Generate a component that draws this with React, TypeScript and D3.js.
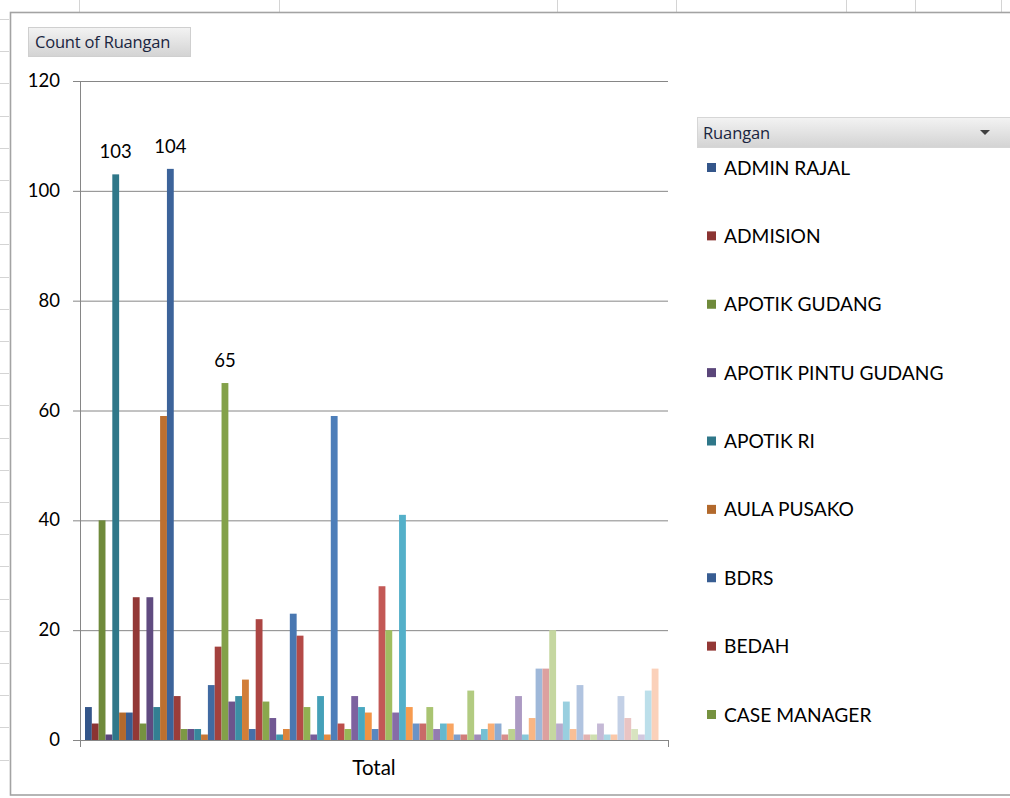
import * as d3 from "d3";

const WIDTH = 1010;
const HEIGHT = 798;

// one value per Ruangan series, in legend order (84 series, single "Total" category)
const COUNTS = [
  6, 3, 40, 1, 103, 5,
  5, 26, 3, 26, 6, 59,
  104, 8, 2, 2, 2, 1,
  10, 17, 65, 7, 8, 11,
  2, 22, 7, 4, 1, 2,
  23, 19, 6, 1, 8, 1,
  59, 3, 2, 8, 6, 5,
  2, 28, 20, 5, 41, 6,
  3, 3, 6, 2, 3, 3,
  1, 1, 9, 1, 2, 3,
  3, 1, 2, 8, 1, 4,
  13, 13, 20, 3, 7, 2,
  10, 1, 1, 3, 1, 1,
  8, 4, 2, 1, 9, 13,
];

// only the first entries of the legend are visible
const LEGEND_NAMES = [
  "ADMIN RAJAL",
  "ADMISION",
  "APOTIK GUDANG",
  "APOTIK PINTU GUDANG",
  "APOTIK RI",
  "AULA PUSAKO",
  "BDRS",
  "BEDAH",
  "CASE MANAGER",
];

const LABELLED = [4, 12, 20]; // series indices with data labels
const Y_TICKS = [0, 20, 40, 60, 80, 100, 120];

// dark -> accent -> light, per Office accent hue
const HUES = [
  ["#34568a", "#4f81bd", "#c3d0e6"],
  ["#8b3432", "#c0504d", "#e9c4c3"],
  ["#6f8a3b", "#9bbb59", "#d8e4c0"],
  ["#5a467a", "#8064a2", "#d2c9df"],
  ["#2f7789", "#4bacc6", "#bcdfea"],
  ["#b2692c", "#f79646", "#fbd1ba"],
];

const FONT = "Lato, 'Open Sans', sans-serif";

const CYCLES = Math.ceil(COUNTS.length / HUES.length);
function seriesColor(i: number) {
  const hue = HUES[i % HUES.length];
  const cycle = Math.floor(i / HUES.length);
  return d3.piecewise(d3.interpolateRgb, hue)(cycle / (CYCLES - 1));
}

const plot = { left: 80, right: 668, top: 81, bottom: 740 };

export default function App() {
  const y = d3.scaleLinear().domain([0, 120]).range([plot.bottom, plot.top]);
  const x = d3
    .scaleBand<number>()
    .domain(COUNTS.map((_, i) => i))
    .range([plot.left + 5, plot.right - 9.5])
    .paddingInner(0);

  const sheetCols = [79, 279, 557, 676, 846, 915, 1001];
  const sheetRows = d3.range(19, 790, 32.2);

  const legendY = d3
    .scalePoint<number>()
    .domain(LEGEND_NAMES.map((_, i) => i))
    .range([168, 715]);

  return (
    <svg
      width={WIDTH}
      height={HEIGHT}
      style={{ position: "absolute", left: 0, top: 0, background: "#fff" }}
      fontFamily={FONT}
    >
      <defs>
        <linearGradient id="btn" x1="0" y1="0" x2="0" y2="1">
          <stop offset="0" stopColor="#f3f3f3" />
          <stop offset="1" stopColor="#d3d3d3" />
        </linearGradient>
      </defs>

      {/* worksheet grid behind the chart */}
      {sheetCols.map((c) => (
        <line key={"c" + c} x1={c + 0.5} x2={c + 0.5} y1={0} y2={12} stroke="#d4d4d4" />
      ))}
      {sheetRows.map((r) => (
        <line key={"r" + r} x1={0} x2={9} y1={Math.round(r) + 0.5} y2={Math.round(r) + 0.5} stroke="#d4d4d4" />
      ))}

      {/* chart area */}
      <rect x={10.5} y={12.5} width={1100} height={782.5} fill="#fff" stroke="#a3a3a3" strokeWidth={1.6} />

      {/* value field button */}
      <rect x={28.5} y={27.5} width={162} height={29} fill="url(#btn)" stroke="#cfcfcf" />
      <text x={35} y={48} fontSize={16.5} fill="#1a2540" fontFamily="'Open Sans', sans-serif" letterSpacing={-0.2}>
        Count of Ruangan
      </text>

      {/* gridlines */}
      {Y_TICKS.filter((t) => t > 0).map((t) => (
        <line key={t} x1={plot.left} x2={plot.right} y1={y(t) + 0.5} y2={y(t) + 0.5} stroke="#868686" />
      ))}

      {/* bars */}
      {COUNTS.map((v, i) => (
        <rect
          key={i}
          x={x(i)}
          y={y(v)}
          width={x.bandwidth()}
          height={y(0) - y(v)}
          fill={seriesColor(i)}
        />
      ))}

      {/* data labels */}
      {LABELLED.map((i) => (
        <text
          key={i}
          x={(x(i) ?? 0) + x.bandwidth() / 2}
          y={y(COUNTS[i]) - 16}
          textAnchor="middle"
          fontSize={18.5}
          fill="#000"
        >
          {COUNTS[i]}
        </text>
      ))}

      {/* y axis */}
      <line x1={plot.left + 0.5} x2={plot.left + 0.5} y1={plot.top} y2={plot.bottom} stroke="#868686" />
      {Y_TICKS.map((t) => (
        <g key={t}>
          <line x1={73} x2={plot.left} y1={y(t) + 0.5} y2={y(t) + 0.5} stroke="#868686" />
          <text x={60} y={y(t) + 6} textAnchor="end" fontSize={18.5} fill="#000">
            {t}
          </text>
        </g>
      ))}

      {/* x axis */}
      <line x1={plot.left} x2={plot.right} y1={plot.bottom + 0.5} y2={plot.bottom + 0.5} stroke="#868686" />
      <line x1={plot.left + 0.5} x2={plot.left + 0.5} y1={plot.bottom} y2={plot.bottom + 7} stroke="#868686" />
      <line x1={plot.right + 0.5} x2={plot.right + 0.5} y1={plot.bottom} y2={plot.bottom + 7} stroke="#868686" />
      <text x={(plot.left + plot.right) / 2} y={775} textAnchor="middle" fontSize={20.5} fill="#000">
        Total
      </text>

      {/* legend field button */}
      <rect x={697.5} y={117.5} width={320} height={30} fill="url(#btn)" stroke="#d6d6d6" />
      <text x={703} y={139} fontSize={16.5} fill="#1a2540" fontFamily="'Open Sans', sans-serif" letterSpacing={-0.1}>
        Ruangan
      </text>
      <path d="M980,130 L990,130 L985,135 Z" fill="#404040" />

      {LEGEND_NAMES.map((name, i) => {
        const ly = legendY(i) ?? 0;
        return (
          <g key={name}>
            <rect x={707} y={ly - 5} width={9} height={9} fill={seriesColor(i)} />
            <text x={724} y={ly + 6.5} fontSize={19.2} fill="#000">
              {name}
            </text>
          </g>
        );
      })}
    </svg>
  );
}
